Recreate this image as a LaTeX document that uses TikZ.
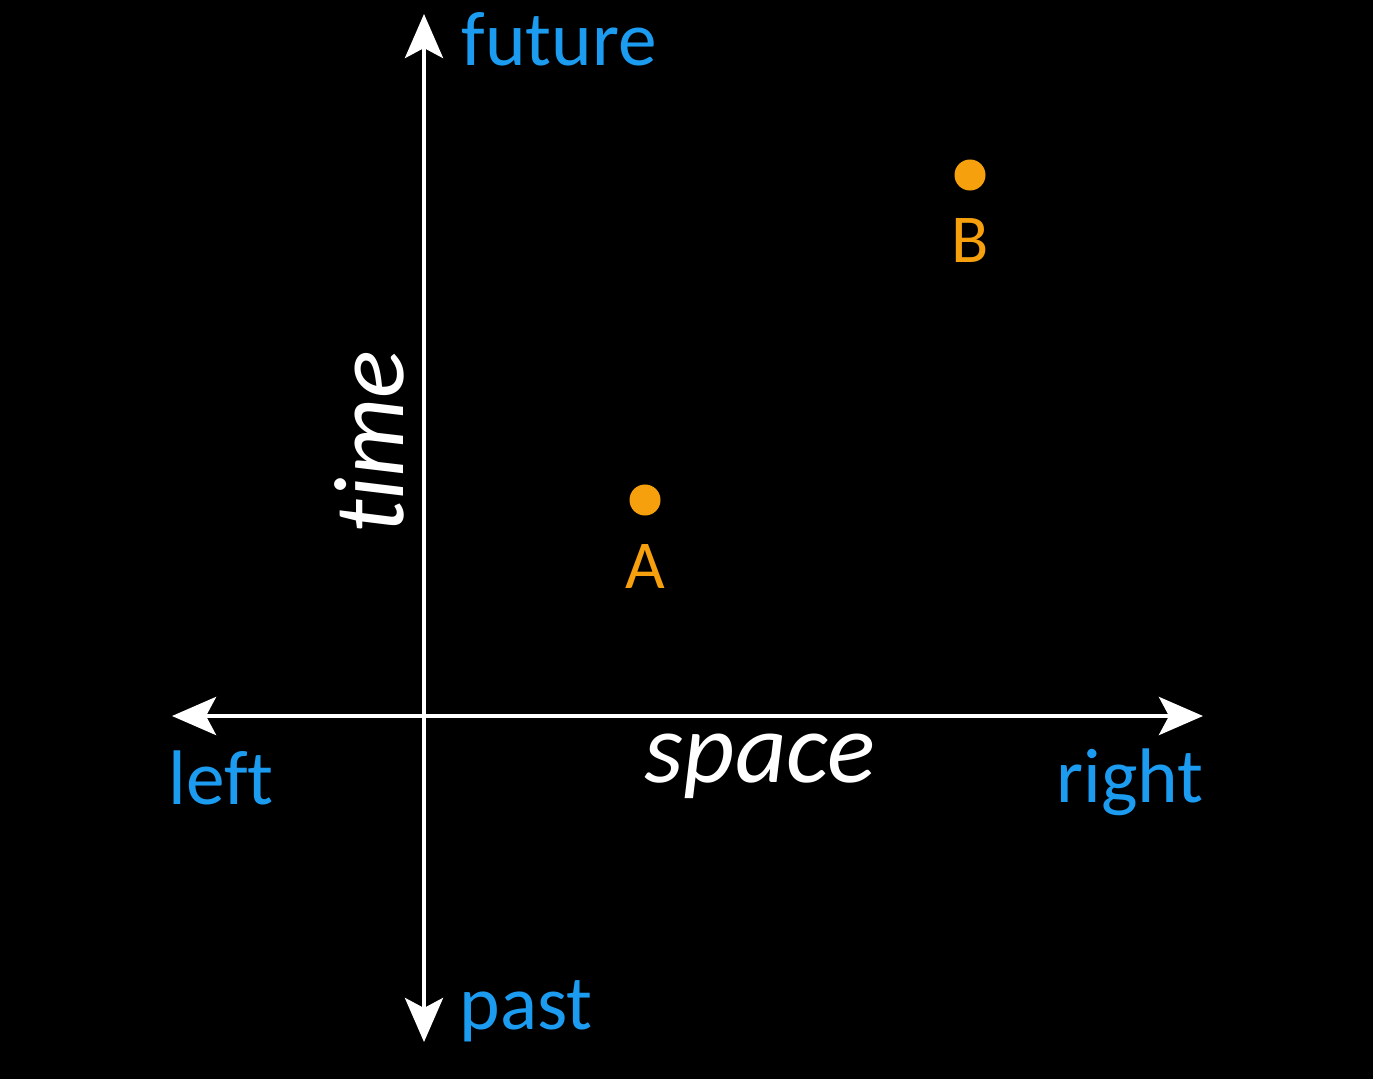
\documentclass[tikz,border=0pt]{standalone}
\usepackage{fontspec}
\setmainfont[Ligatures={NoCommon}]{Carlito}
\usetikzlibrary{arrows.meta}
\definecolor{skyblue}{HTML}{1C9CF0}
\definecolor{dotorange}{HTML}{F6A00E}
\tikzset{
  axis/.style={draw=white, line width=0.045cm, {Stealth[length=0.44cm,width=0.38cm,inset=0.1cm]}-{Stealth[length=0.44cm,width=0.38cm,inset=0.1cm]}},
  dirlabel/.style={text=skyblue, font=\fontsize{22}{26}\selectfont, inner sep=0pt},
  axlabel/.style={text=white, font=\fontsize{28.5}{32}\selectfont\itshape, inner sep=0pt},
  event/.style={circle, fill=dotorange, minimum size=0.31cm, inner sep=0pt},
  evlabel/.style={text=dotorange, font=\fontsize{19.5}{23}\selectfont, inner sep=0pt}
}
\begin{document}
\begin{tikzpicture}[x=0.01cm,y=-0.01cm]
\fill[black] (0,0) rectangle (1373,1079);
\useasboundingbox (0,0) rectangle (1373,1079);
\coordinate (ttop) at (424,14);
\coordinate (tbot) at (424,1042);
\coordinate (sleft) at (172,716);
\coordinate (sright) at (1203,716);
\draw[axis] (tbot) -- (ttop);
\draw[axis] (sleft) -- (sright);
\node[dirlabel, anchor=base west] (future) at (461,66) {future};
\node[dirlabel, anchor=base west] (past) at (459,1029) {past};
\node[dirlabel, anchor=base west] (left) at (168,804) {left};
\node[dirlabel, anchor=base east] (right) at (1204,802) {right};
\node[axlabel, anchor=base] (space) at (760,782) {space};
\node[axlabel, anchor=base, rotate=90] (time) at (403,442) {time};
\node[event] (A) at (645,500) {};
\node[event] (B) at (970,175) {};
\node[evlabel, anchor=base] (Alab) at (645,588) {A};
\node[evlabel, anchor=base] (Blab) at (970,262) {B};
\end{tikzpicture}
\end{document}
